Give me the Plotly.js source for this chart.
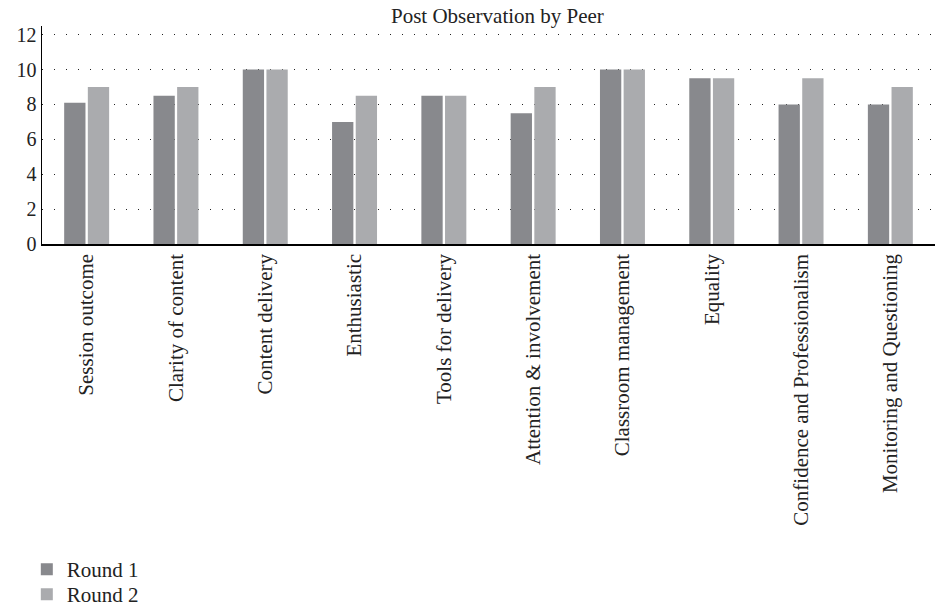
<!DOCTYPE html>
<html>
<head>
<meta charset="utf-8">
<script src="https://cdn.plot.ly/plotly-3.0.1.min.js"></script>
<style>html,body{margin:0;padding:0;background:#fff;}#chart{width:946px;height:610px;}</style>
</head>
<body>
<div id="chart"></div>
<script>
const categories = ["Session outcome", "Clarity of content", "Content delivery", "Enthusiastic", "Tools for delivery", "Attention & involvement", "Classroom management", "Equality", "Confidence and Professionalism", "Monitoring and Questioning"];
const round1 = [8.1, 8.5, 10, 7.0, 8.5, 7.5, 10, 9.5, 8.0, 8.0];
const round2 = [9.0, 9.0, 10, 8.5, 8.5, 9.0, 10, 9.5, 9.5, 9.0];
const seriesNames = ["Round 1", "Round 2"];
const yTicks = [0, 2, 4, 6, 8, 10, 12];

const fam = "Liberation Serif, Times New Roman, serif";
const txt = "#222";

const data = [
  {type: "bar", x: categories, y: round1, name: seriesNames[0], marker: {color: "#88898d"}, legend: "legend"},
  {type: "bar", x: categories, y: round2, name: seriesNames[1], marker: {color: "#aaabae"}, legend: "legend2"}
];

const legendBase = {x: -0.017, xanchor: "left", xref: "paper", yref: "container", yanchor: "top", orientation: "v", font: {family: fam, size: 21, color: txt}, itemclick: false, bgcolor: "rgba(0,0,0,0)"};

const layout = {
  width: 946, height: 610,
  margin: {l: 42, r: 11, t: 26, b: 366, autoexpand: false},
  paper_bgcolor: "#fff", plot_bgcolor: "#fff",
  font: {family: fam, size: 20, color: txt},
  title: {text: "Post Observation by Peer", x: 0.51, xref: "paper", xanchor: "center", y: 0.974, yref: "container", yanchor: "middle", font: {family: fam, size: 21, color: txt}},
  barmode: "group",
  bargap: 0.47,
  bargroupgap: 0.1,
  showlegend: true,
  legend: Object.assign({}, legendBase, {y: 0.1}),
  legend2: Object.assign({}, legendBase, {y: 0.059}),
  xaxis: {
    type: "category",
    tickangle: -90,
    showgrid: false,
    showline: true, linecolor: "#000", linewidth: 1.5,
    ticks: "", tickfont: {family: fam, size: 21, color: txt},
    zeroline: false, automargin: false
  },
  yaxis: {
    range: [0, 12.5],
    tickvals: yTicks,
    ticktext: yTicks.map(String),
    showgrid: true, gridcolor: "#222", gridwidth: 1, griddash: "1px,11px",
    showline: true, linecolor: "#000", linewidth: 1.5,
    ticks: "", ticklen: 0,
    tickfont: {family: fam, size: 20, color: txt},
    zeroline: false, automargin: false
  }
};

Plotly.newPlot("chart", data, layout, {displayModeBar: false, staticPlot: true});
</script>
</body>
</html>
